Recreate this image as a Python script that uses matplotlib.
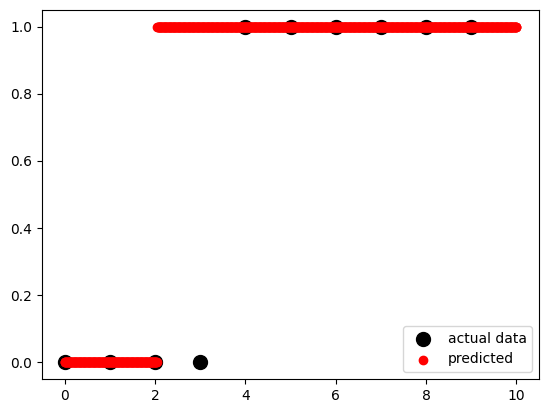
import numpy as np
import matplotlib
matplotlib.use("Agg")
import matplotlib.pyplot as plt

# actual observations
x_actual = [0, 1, 2, 3, 4, 5, 6, 7, 8, 9]
y_actual = [0, 0, 0, 0, 1, 1, 1, 1, 1, 1]

# predicted curve: dense grid from 0 to 10, class switches near x = 2.05
pred_start = 0
pred_end = 10
pred_count = 1000
pred_switch = 2.05

x_pred = np.linspace(pred_start, pred_end, pred_count)
y_pred = np.where(x_pred < pred_switch, 0, 1)

fig = plt.figure(figsize=(5.47, 4.13), dpi=100)
ax = fig.add_axes([42 / 547, 34 / 413, 497 / 547, 369 / 413])

ax.scatter(x_actual, y_actual, color="black", s=100, label="actual data")
ax.scatter(x_pred, y_pred, color="red", label="predicted")
ax.legend(loc="lower right")

fig.savefig("out.png", dpi=100)
